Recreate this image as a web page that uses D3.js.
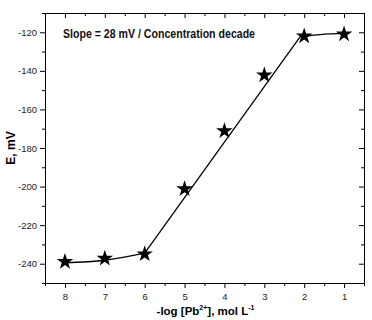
<!DOCTYPE html>
<html>
<head>
<meta charset="utf-8">
<script src="https://cdn.jsdelivr.net/npm/d3@7"></script>
<style>
    body { margin: 0; background: #fff; }
    text { font-family: "Liberation Sans", Arial, sans-serif; }
</style>
</head>
<body>
<div id="chart"></div>
<script>
// measured points: -log[Pb2+] vs E (mV)
let pX = [8, 7, 6, 5, 4, 3, 2, 1]
let pE = [-239, -237.3, -235, -201.2, -171.2, -142.2, -122, -121]

// fitted curve pieces (low plateau, linear range, high plateau)
let lowX = [8, 7, 6]
let lowE = [-239.5, -238.2, -234.5]
let linX = [6, 2.1]
let linE = [-234.5, -122.3]
let highX = [2.1, 1.6, 1]
let highE = [-122.3, -121.2, -120.6]

let xTicks = [8, 7, 6, 5, 4, 3, 2, 1]
let yTicks = [-240, -220, -200, -180, -160, -140, -120]

let width = 372, height = 320
let margin = {top: 13, right: 8, bottom: 37, left: 45}
let w = width - margin.left - margin.right
let h = height - margin.top - margin.bottom

let svg = d3.select("#chart").append("svg")
    .attr("width", width)
    .attr("height", height)

let g = svg.append("g")
    .attr("transform", `translate(${margin.left},${margin.top})`)

let x = d3.scaleLinear().domain([8.5, 0.5]).range([0, w])
let y = d3.scaleLinear().domain([-250, -110]).range([h, 0])

let minorX = d3.range(8.5, 0.4, -0.5).filter(d => !Number.isInteger(d))
let minorY = d3.range(-250, -109, 10).filter(d => d % 20 !== 0)

// plain hyphen minus like the original
let fmt = d => String(d)

function styleAxis(sel) {
    sel.selectAll("path").attr("stroke", "#000").attr("stroke-width", 1)
    sel.selectAll("line").attr("stroke", "#000").attr("stroke-width", 1)
    sel.selectAll("text").attr("font-size", 9.5).attr("fill", "#222")
}

// bottom axis
let xb = g.append("g").attr("transform", `translate(0,${h})`)
xb.call(d3.axisBottom(x).tickValues(xTicks).tickFormat(fmt).tickSize(5).tickSizeOuter(0).tickPadding(5))
xb.append("g").call(d3.axisBottom(x).tickValues(minorX).tickSize(3).tickFormat("").tickSizeOuter(0))
    .select(".domain").remove()
styleAxis(xb)

// top axis (mirror, inward ticks)
let xt = g.append("g")
xt.call(d3.axisBottom(x).tickValues(xTicks).tickSize(5).tickFormat("").tickSizeOuter(0))
xt.append("g").call(d3.axisBottom(x).tickValues(minorX).tickSize(3).tickFormat("").tickSizeOuter(0))
    .select(".domain").remove()
styleAxis(xt)

// left axis
let yl = g.append("g")
yl.call(d3.axisLeft(y).tickValues(yTicks).tickFormat(fmt).tickSize(5).tickSizeOuter(0).tickPadding(3))
yl.append("g").call(d3.axisLeft(y).tickValues(minorY).tickSize(3).tickFormat("").tickSizeOuter(0))
    .select(".domain").remove()
styleAxis(yl)

// right axis (mirror, inward ticks)
let yr = g.append("g").attr("transform", `translate(${w},0)`)
yr.call(d3.axisLeft(y).tickValues(yTicks).tickSize(5).tickFormat("").tickSizeOuter(0))
yr.append("g").call(d3.axisLeft(y).tickValues(minorY).tickSize(3).tickFormat("").tickSizeOuter(0))
    .select(".domain").remove()
styleAxis(yr)

// fit line
let lineSmooth = d3.line().x(d => x(d[0])).y(d => y(d[1])).curve(d3.curveMonotoneX)
let pieces = [[lowX, lowE], [linX, linE], [highX, highE]]
pieces.forEach(p => {
    g.append("path")
        .datum(p[0].map((v, i) => [v, p[1][i]]))
        .attr("fill", "none")
        .attr("stroke", "#000")
        .attr("stroke-width", 1.3)
        .attr("d", lineSmooth)
})

// star markers
g.selectAll(".pt")
    .data(pX.map((v, i) => [v, pE[i]]))
    .enter().append("path")
    .attr("class", "pt")
    .attr("transform", d => `translate(${x(d[0])},${y(d[1])})`)
    .attr("d", d3.symbol().type(d3.symbolStar).size(85))
    .attr("fill", "#000")

// annotation (original font is condensed)
g.append("text")
    .attr("x", 18)
    .attr("y", 25)
    .attr("font-size", 12)
    .attr("font-weight", "bold")
    .attr("fill", "#111")
    .attr("textLength", 192)
    .attr("lengthAdjust", "spacingAndGlyphs")
    .text("Slope = 28 mV / Concentration decade")

// axis titles
svg.append("text")
    .attr("transform", `translate(15,${margin.top + h / 2}) rotate(-90)`)
    .attr("text-anchor", "middle")
    .attr("font-size", 12)
    .attr("font-weight", "bold")
    .text("E, mV")

let xl = svg.append("text")
    .attr("x", margin.left + w / 2 + 1)
    .attr("y", 315)
    .attr("text-anchor", "middle")
    .attr("font-size", 11.5)
    .attr("font-weight", "bold")
xl.append("tspan").text("-log [Pb")
xl.append("tspan").attr("font-size", 7).attr("dy", -5).text("2+")
xl.append("tspan").attr("dy", 5).text("], mol L")
xl.append("tspan").attr("font-size", 7).attr("dy", -5).text("-1")
</script>
</body>
</html>
